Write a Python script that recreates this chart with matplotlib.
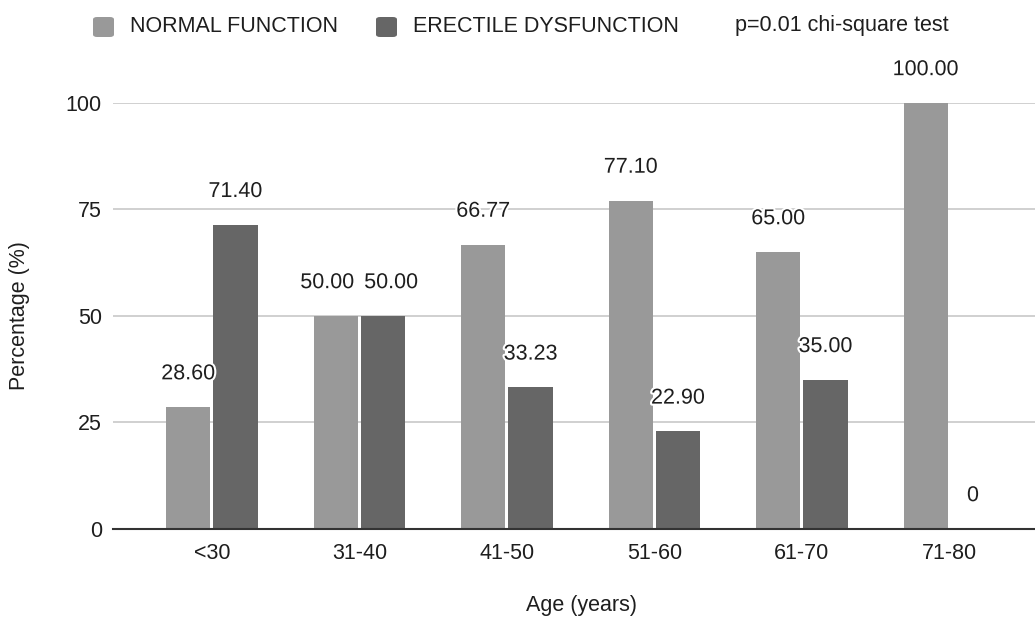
import matplotlib
matplotlib.use("Agg")
import matplotlib.pyplot as plt
import matplotlib.patheffects as pe
from matplotlib.patches import FancyBboxPatch
import numpy as np

categories = ["<30", "31-40", "41-50", "51-60", "61-70", "71-80"]
normal = [28.60, 50.00, 66.77, 77.10, 65.00, 100.00]
erectile = [71.40, 50.00, 33.23, 22.90, 35.00, 0]
normal_labels = ["28.60", "50.00", "66.77", "77.10", "65.00", "100.00"]
erectile_labels = ["71.40", "50.00", "33.23", "22.90", "35.00", "0"]
yticks = [0, 25, 50, 75, 100]

plt.rcParams['font.family'] = ['Liberation Sans', 'DejaVu Sans']

W, H = 1035, 617
fig = plt.figure(figsize=(W / 100, H / 100), dpi=100)
ax = fig.add_axes([113 / W, (H - 529) / H, 922 / W, 426 / H])

c_norm = "#999999"
c_erec = "#666666"
txt = "#1e1e1e"
fs = 15.5
x = np.arange(len(categories))
w = 0.30
off = 0.16
ax.bar(x - off, normal, width=w, color=c_norm, zorder=3)
ax.bar(x + off, erectile, width=w, color=c_erec, zorder=3)

halo = [pe.withStroke(linewidth=3, foreground="white")]
for i in range(len(categories)):
    # push the two labels apart when they sit at about the same height
    push = 6 if abs(normal[i] - erectile[i]) < 5 else 0
    for xi, v, lab, sgn in ((x[i] - off, normal[i], normal_labels[i], -1),
                            (x[i] + off, erectile[i], erectile_labels[i], 1)):
        ax.annotate(lab, (xi, v), xytext=(sgn * push, 24), textcoords="offset points",
                    ha="center", va="center", fontsize=fs, color=txt,
                    path_effects=halo, annotation_clip=False, zorder=5)

ax.set_xlim(-0.67, 5.58)
ax.set_ylim(0, 100)
ax.set_yticks(yticks)
ax.set_yticklabels([str(t) for t in yticks])
ax.set_xticks(x)
ax.set_xticklabels(categories)
ax.tick_params(axis="both", length=0, labelsize=fs, colors=txt)
ax.tick_params(axis="y", pad=8)
ax.tick_params(axis="x", pad=10)
ax.grid(axis="y", color="#c8c8c8", linewidth=1.2, zorder=0)
for s in ["top", "right", "left"]:
    ax.spines[s].set_visible(False)
ax.spines["bottom"].set_color("#333333")
ax.spines["bottom"].set_linewidth(1.5)
ax.spines["bottom"].set_zorder(4)

fig.text(20 / W, 1 - 316 / H, "Percentage (%)", rotation=90, ha="center", va="center",
         fontsize=fs, color=txt)
fig.text(581 / W, 1 - 606 / H, "Age (years)", ha="center", va="center", fontsize=fs, color=txt)

# legend
def sq(x0, color):
    fig.patches.append(FancyBboxPatch((x0 / W, 1 - 37 / H), 21 / W, 20 / H,
                                      boxstyle="round,pad=0,rounding_size=0.004",
                                      transform=fig.transFigure, facecolor=color, edgecolor="none"))
sq(93, c_norm)
fig.text(130 / W, 1 - 26 / H, "NORMAL FUNCTION", ha="left", va="center", fontsize=fs, color=txt)
sq(376, c_erec)
fig.text(413 / W, 1 - 26 / H, "ERECTILE DYSFUNCTION", ha="left", va="center", fontsize=fs, color=txt)
fig.text(735 / W, 1 - 25 / H, "p=0.01 chi-square test", ha="left", va="center", fontsize=fs, color=txt)

fig.savefig("out.png", dpi=100)
